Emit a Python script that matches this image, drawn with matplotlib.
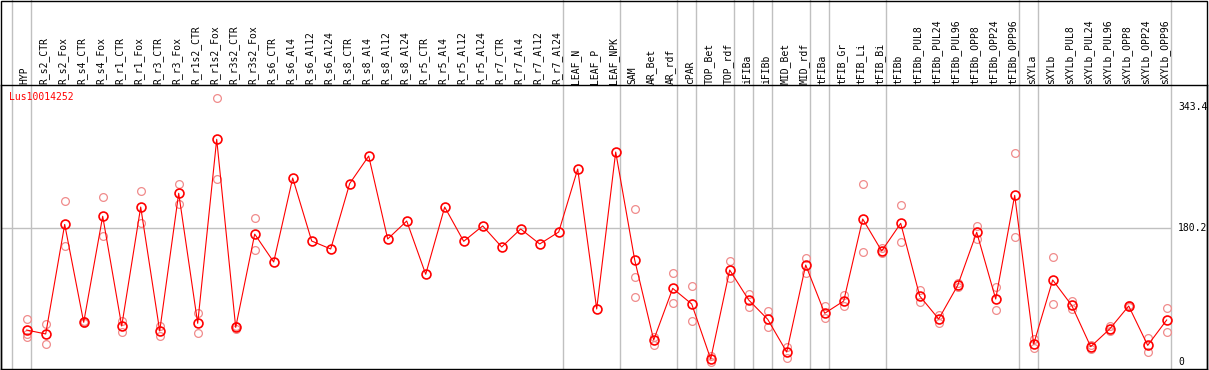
import numpy as np
import matplotlib
matplotlib.use('Agg')
import matplotlib.pyplot as plt

samples = [
    'HYP', 'R_s2_CTR', 'R_s2_Fox', 'R_s4_CTR', 'R_s4_Fox', 'R_r1_CTR', 'R_r1_Fox',
    'R_r3_CTR', 'R_r3_Fox', 'R_r1s2_CTR', 'R_r1s2_Fox', 'R_r3s2_CTR', 'R_r3s2_Fox',
    'R_s6_CTR', 'R_s6_Al4', 'R_s6_Al12', 'R_s6_Al24', 'R_s8_CTR', 'R_s8_Al4',
    'R_s8_Al12', 'R_s8_Al24', 'R_r5_CTR', 'R_r5_Al4', 'R_r5_Al12', 'R_r5_Al24',
    'R_r7_CTR', 'R_r7_Al4', 'R_r7_Al12', 'R_r7_Al24', 'LEAF_N', 'LEAF_P', 'LEAF_NPK',
    'SAM', 'AR_Bet', 'AR_rdf', 'cPAR', 'TOP_Bet', 'TOP_rdf', 'iFIBa', 'iFIBb',
    'MID_Bet', 'MID_rdf', 'tFIBa', 'tFIB_Gr', 'tFIB_Li', 'tFIB_Bi', 'tFIBb',
    'tFIBb_PUL8', 'tFIBb_PUL24', 'tFIBb_PUL96', 'tFIBb_OPP8', 'tFIBb_OPP24',
    'tFIBb_OPP96', 'sXYLa', 'sXYLb', 'sXYLb_PUL8', 'sXYLb_PUL24', 'sXYLb_PUL96',
    'sXYLb_OPP8', 'sXYLb_OPP24', 'sXYLb_OPP96',
]

means = [
    43, 37.7, 185, 53.4, 196, 48.4, 208.4, 41.7, 226.9, 52, 299.5, 46.6, 172,
    134.5, 247.4, 162.7, 152, 240, 277, 165.4, 189.6, 118, 208.4, 162.3, 183,
    154.7, 178.9, 158.7, 174.8, 259.5, 71.3, 282.4,
    137.2, 29.6, 99, 78, 4, 123.7, 83.4, 57.4, 13.4, 130.4, 65.5, 82, 192.3,
    149.3, 186.5, 88.8, 57.8, 103, 174.4, 84.7, 224.1, 24.2, 110.3, 76.2, 20.6,
    44.4, 75.3, 22.4, 56.5,
]

replicates = [
    [58, 37, 34], [51, 24], [216.5, 156], [55, 52], [222, 169], [55.6, 40],
    [230, 186.5], [48.8, 35], [240, 212], [65.5, 38.6], [354.6, 245.7], [48, 45],
    [193.6, 150],
    [], [], [], [], [], [], [], [], [], [], [], [], [], [], [], [], [], [], [],
    [205.8, 113.9, 87], [34, 22.9], [119.2, 79.3], [101.8, 54.7], [8, 0.5],
    [135.4, 113], [91.4, 74.4], [69, 47.5], [20.6, 5.8], [139.4, 120],
    [75.3, 59.6], [90, 75.7], [239, 147.5], [153, 146], [210.7, 161],
    [96.8, 81], [63.2, 52.9], [106.7, 100.4], [183, 165], [101.3, 70],
    [280.6, 167.7], [30.5, 18.4], [140.8, 78], [82.5, 71.7], [22.9, 17],
    [48.8, 42], [76.7, 73.6], [31.9, 13], [72.2, 40],
]

# last sample index of each group, grey separators drawn after them
group_ends = [-1, 0, 28, 31, 34, 35, 37, 38, 39, 41, 42, 45, 52, 53, 60]
y_ticks = [0, 180.2, 343.4]
gene = 'Lus10014252'

W, H = 1209, 370
fig = plt.figure(figsize=(W / 100, H / 100), dpi=100)
# plot box: pixels x 1..1207, y 85..369
ax = fig.add_axes([1 / W, 1 / H, 1206 / W, 284 / H])
x0, dx = 26.7, 19.0
ax.set_xlim((1 - x0) / dx, (1207 - x0) / dx)
ymax_v = (362 - 85) / 0.7436
ymin_v = (362 - 369) / 0.7436
ax.set_ylim(ymin_v, ymax_v)
ax.set_xticks([])
ax.set_yticks([])
for s in ax.spines.values():
    s.set_linewidth(1.0)
    s.set_color('black')

x = np.arange(len(samples))

top_frac = 369 / 284
for g in group_ends:
    ax.axvline(g + 0.21, ymin=0, ymax=top_frac, color='#c0c0c0', lw=1.0,
               clip_on=False, zorder=0)

last_sep = group_ends[-1] + 0.21
ax.hlines(y_ticks[1], ax.get_xlim()[0], last_sep, color='#c0c0c0', lw=1.0, zorder=0)

for i, reps in enumerate(replicates):
    if reps:
        ax.plot([i] * len(reps), reps, 'o', ms=5.6, mfc='none', mec='#f08c8c',
                mew=0.9, zorder=2)

ax.plot(x, means, '-', color='red', lw=0.8, zorder=3)
ax.plot(x, means, 'o', ms=6.4, mfc='none', mec='red', mew=1.2, zorder=4)

for i, name in enumerate(samples):
    ax.text(i - 0.1, ymax_v + 1.5, name, rotation=90, ha='center', va='bottom',
            fontsize=7, family='DejaVu Sans Mono', clip_on=False)

for v in y_ticks:
    lab = '0' if v == 0 else f'{v:.1f}'
    ax.text(60.6, v, lab, ha='left', va='center', fontsize=7,
            family='DejaVu Sans Mono')

ax.text((9 - x0) / dx, (362 - 97) / 0.7436, gene, color='red', fontsize=7,
        family='DejaVu Sans Mono', ha='left', va='center')

# outer frame
fig.patches.append(plt.Rectangle((1 / W, 0.5 / H), 1206 / W, (H - 1) / H,
                                 transform=fig.transFigure, fill=False,
                                 ec='black', lw=1.0))

fig.savefig('out.png', dpi=100)
